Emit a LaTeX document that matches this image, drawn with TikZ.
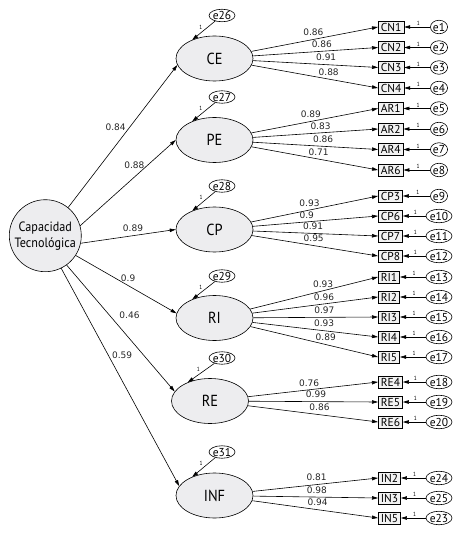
\documentclass[tikz,border=0pt]{standalone}
\usepackage{fontspec}
\setmainfont{PT Sans}[FakeStretch=0.9]
\newfontfamily\boxfont{PT Sans}
\newfontfamily\numfont{DejaVu Sans}
\usetikzlibrary{arrows.meta,shapes.geometric}
\definecolor{latgray}{RGB}{237,237,239}
\definecolor{obsgray}{RGB}{242,242,242}

\begin{document}
\begin{tikzpicture}[x=1pt, y=-1pt, line width=0.6pt,
	lat/.style={draw, ellipse, fill=latgray, minimum width=77pt, minimum height=45pt, inner sep=0pt, font=\fontsize{16}{16}\selectfont},
	obs/.style={draw, rectangle, fill=obsgray, anchor=west, minimum height=12pt, inner xsep=2.5pt, inner ysep=0pt, font=\boxfont\fontsize{11.5}{11.5}\selectfont},
	err/.style={draw, ellipse, fill=white, minimum width=16pt, minimum height=13.5pt, inner sep=0pt, font=\boxfont\fontsize{11.5}{11.5}\selectfont},
	lerr/.style={draw, ellipse, fill=white, minimum width=21pt, minimum height=12.5pt, inner sep=0pt, font=\boxfont\fontsize{11.5}{11.5}\selectfont},
	arr/.style={-{Triangle[length=6pt,width=3.5pt]}},
	load/.style={above, font=\numfont\fontsize{9}{9}\selectfont, text=black!85},
	one/.style={above, pos=.45, inner sep=1pt, font=\fontsize{6}{6}\selectfont}]
	%%%%% START %%%%%
	\useasboundingbox (0,0) rectangle (459,534);
	
	% exogenous factor
	\node[draw, circle, fill=latgray, minimum size=72pt, inner sep=0pt, align=center, font=\fontsize{13.5}{16}\selectfont] (cap) at (45.3,235.7) {Capacidad\\Tecnológica};
	
	% first order factors
	\node[lat] (CE) at (214.5,58.5) {CE};
	\node[lat] (PE) at (214.5,140) {PE};
	\node[lat] (CP) at (214.5,229.5) {CP};
	\node[lat] (RI) at (214.5,318) {RI};
	\node[lat] (RE) at (210,401) {RE};
	\node[lat] (INF) at (214.5,495.5) {INF};
	
	\draw[arr] (cap.51) -- node[load, pos=.56, left] {0.84} (CE.190);
	\draw[arr] (cap.16) -- node[load, pos=.71, left] {0.88} (PE.west);
	\draw[arr] (cap.-12) -- node[load, pos=.55] {0.89} (CP.west);
	\draw[arr] (cap.-33) -- node[load, pos=.52] {0.9} (RI.173);
	\draw[arr] (cap.306) -- node[load, pos=.4, right=6pt] {0.46} (RE.165);
	\draw[arr] (cap.296) -- node[load, pos=.4, right] {0.59} (INF.165);
	
	% disturbances
	\node[lerr] (e26) at (222,15.5) {e26};
	\node[lerr] (e27) at (222,97) {e27};
	\node[lerr] (e28) at (222,186) {e28};
	\node[lerr] (e29) at (222,276) {e29};
	\node[lerr] (e30) at (222,358) {e30};
	\node[lerr] (e31) at (222,452) {e31};
	\draw[arr] (e26) -- node[one, pos=.5, above left] {1} (CE.140);
	\draw[arr] (e27) -- node[one, pos=.5, above left] {1} (PE.140);
	\draw[arr] (e28) -- node[one, pos=.5, above left] {1} (CP.140);
	\draw[arr] (e29) -- node[one, pos=.5, above left] {1} (RI.140);
	\draw[arr] (e30) -- node[one, pos=.5, above left] {1} (RE.140);
	\draw[arr] (e31) -- node[one, pos=.5, above left] {1} (INF.140);
	
	% CE
	\node[obs] (CN1) at (378,27) {CN1};
	\node[obs] (CN2) at (378,47.5) {CN2};
	\node[obs] (CN3) at (378,67.5) {CN3};
	\node[obs] (CN4) at (378,88) {CN4};
	\draw[arr] (CE) -- node[load, pos=.49] {0.86} (CN1.west);
	\draw[arr] (CE) -- node[load, pos=.55] {0.86} (CN2.west);
	\draw[arr] (CE) -- node[load, pos=.585] {0.91} (CN3.west);
	\draw[arr] (CE) -- node[load, pos=.61] {0.88} (CN4.west);
	\node[err] (e1) at (439,27) {e1};
	\node[err] (e2) at (439,47.5) {e2};
	\node[err] (e3) at (439,67.5) {e3};
	\node[err] (e4) at (439,88) {e4};
	\draw[arr] (e1) -- node[one] {1} (CN1);
	\draw[arr] (e2) -- node[one] {1} (CN2);
	\draw[arr] (e3) -- node[one] {1} (CN3);
	\draw[arr] (e4) -- node[one] {1} (CN4);
	
	% PE
	\node[obs] (AR1) at (378,108.5) {AR1};
	\node[obs] (AR2) at (378,129) {AR2};
	\node[obs] (AR4) at (378,149.5) {AR4};
	\node[obs] (AR6) at (378,170) {AR6};
	\draw[arr] (PE) -- node[load, pos=.47] {0.89} (AR1.west);
	\draw[arr] (PE) -- node[load, pos=.54] {0.83} (AR2.west);
	\draw[arr] (PE) -- node[load, pos=.56] {0.86} (AR4.west);
	\draw[arr] (PE) -- node[load, pos=.53] {0.71} (AR6.west);
	\node[err] (e5) at (439,108.5) {e5};
	\node[err] (e6) at (439,129) {e6};
	\node[err] (e7) at (439,149.5) {e7};
	\node[err] (e8) at (439,170) {e8};
	\draw[arr] (e5) -- node[one] {1} (AR1);
	\draw[arr] (e6) -- node[one] {1} (AR2);
	\draw[arr] (e7) -- node[one] {1} (AR4);
	\draw[arr] (e8) -- node[one] {1} (AR6);
	
	% CP
	\node[obs] (CP3) at (378,196) {CP3};
	\node[obs] (CP6) at (378,216) {CP6};
	\node[obs] (CP7) at (378,236) {CP7};
	\node[obs] (CP8) at (378,256) {CP8};
	\draw[arr] (CP) -- node[load, pos=.46] {0.93} (CP3.west);
	\draw[arr] (CP) -- node[load, pos=.43] {0.9} (CP6.west);
	\draw[arr] (CP) -- node[load, pos=.48] {0.91} (CP7.west);
	\draw[arr] (CP) -- node[load, pos=.49] {0.95} (CP8.west);
	\node[err] (e9) at (439,196) {e9};
	\node[err] (e10) at (439,216) {e10};
	\node[err] (e11) at (439,236) {e11};
	\node[err] (e12) at (439,256) {e12};
	\draw[arr] (e9) -- node[one] {1} (CP3);
	\draw[arr] (e10) -- node[one] {1} (CP6);
	\draw[arr] (e11) -- node[one] {1} (CP7);
	\draw[arr] (e12) -- node[one] {1} (CP8);
	
	% RI
	\node[obs] (RI1) at (378,277) {RI1};
	\node[obs] (RI2) at (378,297) {RI2};
	\node[obs] (RI3) at (378,317) {RI3};
	\node[obs] (RI4) at (378,337) {RI4};
	\node[obs] (RI5) at (378,357) {RI5};
	\draw[arr] (RI) -- node[load, pos=.57] {0.93} (RI1.west);
	\draw[arr] (RI) -- node[load, pos=.57] {0.96} (RI2.west);
	\draw[arr] (RI) -- node[load, pos=.57] {0.97} (RI3.west);
	\draw[arr] (RI) -- node[load, pos=.57] {0.93} (RI4.west);
	\draw[arr] (RI) -- node[load, pos=.59] {0.89} (RI5.west);
	\node[err] (e13) at (439,277) {e13};
	\node[err] (e14) at (439,297) {e14};
	\node[err] (e15) at (439,317) {e15};
	\node[err] (e16) at (439,337) {e16};
	\node[err] (e17) at (439,357) {e17};
	\draw[arr] (e13) -- node[one] {1} (RI1);
	\draw[arr] (e14) -- node[one] {1} (RI2);
	\draw[arr] (e15) -- node[one] {1} (RI3);
	\draw[arr] (e16) -- node[one] {1} (RI4);
	\draw[arr] (e17) -- node[one] {1} (RI5);
	
	% RE
	\node[obs] (RE4) at (378,382) {RE4};
	\node[obs] (RE5) at (378,402) {RE5};
	\node[obs] (RE6) at (378,422) {RE6};
	\draw[arr] (RE) -- node[load, pos=.47] {0.76} (RE4.west);
	\draw[arr] (RE) -- node[load, pos=.52] {0.99} (RE5.west);
	\draw[arr] (RE) -- node[load, pos=.55] {0.86} (RE6.west);
	\node[err] (e18) at (439,382) {e18};
	\node[err] (e19) at (439,402) {e19};
	\node[err] (e20) at (439,422) {e20};
	\draw[arr] (e18) -- node[one] {1} (RE4);
	\draw[arr] (e19) -- node[one] {1} (RE5);
	\draw[arr] (e20) -- node[one] {1} (RE6);
	
	% INF
	\node[obs] (IN2) at (378,478) {IN2};
	\node[obs] (IN3) at (378,498) {IN3};
	\node[obs] (IN5) at (378,518) {IN5};
	\draw[arr] (INF) -- node[load, pos=.51] {0.81} (IN2.west);
	\draw[arr] (INF) -- node[load, pos=.51] {0.98} (IN3.west);
	\draw[arr] (INF) -- node[load, pos=.52] {0.94} (IN5.west);
	\node[err] (e24) at (439,478) {e24};
	\node[err] (e25) at (439,498) {e25};
	\node[err] (e23) at (439,518) {e23};
	\draw[arr] (e24) -- node[one] {1} (IN2);
	\draw[arr] (e25) -- node[one] {1} (IN3);
	\draw[arr] (e23) -- node[one] {1} (IN5);
	
	%%%%% END %%%%%
\end{tikzpicture}
\end{document}
